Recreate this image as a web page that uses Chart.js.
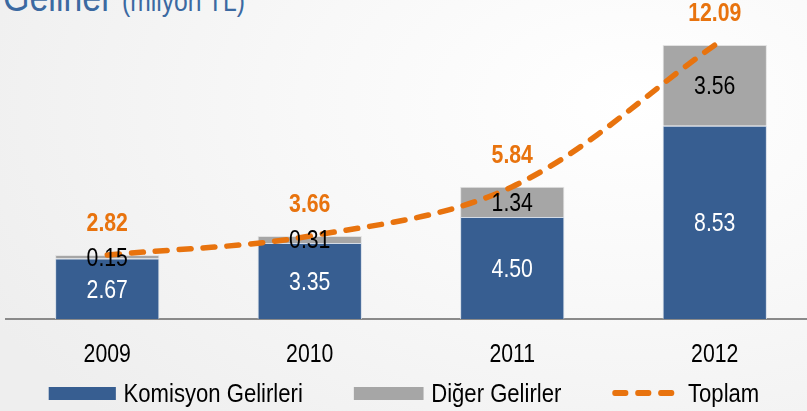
<!DOCTYPE html>
<html>
<head>
<meta charset="utf-8">
<script src="https://cdn.jsdelivr.net/npm/chart.js@4.4.1/dist/chart.umd.min.js"></script>
<style>
  html, body { margin: 0; padding: 0; }
  body {
    width: 807px; height: 411px; overflow: hidden; position: relative;
    background: radial-gradient(ellipse 90% 110% at 78% 25%, #ffffff 0%, #f8f8f8 45%, #eeeeee 100%);
    font-family: "Liberation Sans", Arial, sans-serif;
  }
  .chartBox { position: absolute; left: 0; top: 0; width: 816px; height: 411px; }
  .title {
    position: absolute; left: 3px; top: -23px; line-height: 40px;
    color: #3b69a1; font-size: 40px; white-space: nowrap;
    transform: scaleX(0.85); transform-origin: 0 50%;
  }
  .title span { font-size: 29px; }
  /* the whole legend is squeezed like a narrow font, so widths are divided by 0.85 */
  .legendZone {
    position: absolute; left: -96.5px; top: 378px; width: 1000px; height: 30px;
    display: flex; justify-content: center; align-items: center; gap: 60px;
    font-size: 26px; color: #000; white-space: nowrap;
    transform: scaleX(0.85); transform-origin: 50% 50%;
  }
  .legendZone--item { display: flex; align-items: center; flex-shrink: 0; }
  .legendZone--box { height: 13px; margin-right: 9px; }
  .legendZone--dash { width: 19px; height: 6px; border-radius: 3px; margin-right: 8px; }
</style>
</head>
<body>
<div class="title">Gelirler <span>(milyon TL)</span></div>
<div class="chartBox"><canvas id="myChart" width="816" height="411"></canvas></div>
<div class="legendZone"></div>

<script>
var ctx = document.getElementById("myChart").getContext("2d");

const years = ["2009", "2010", "2011", "2012"];
const komisyon = [2.67, 3.35, 4.5, 8.53];
const diger = [0.15, 0.31, 1.34, 3.56];
const toplam = [2.82, 3.66, 5.84, 12.09];

const blue = "#375e91";
const gray = "#a6a6a6";
const orange = "#e8730e";
const fontName = '"Liberation Sans", Arial, sans-serif';
const squeeze = 0.85;

function narrowText(c, text, x, y) {
  c.save();
  c.translate(x, y);
  c.scale(squeeze, 1);
  c.fillText(text, 0, 0);
  c.restore();
}

// all the numbers, drawn on top of bars and line
const valueLabels = {
  id: "valueLabels",
  afterDatasetsDraw(chart) {
    let c = chart.ctx;
    c.save();
    c.textAlign = "center";
    c.textBaseline = "middle";

    // values inside the bar segments
    c.font = "25px " + fontName;
    chart.data.datasets.forEach((ds, d) => {
      if (ds.type === "line") return;
      c.fillStyle = ds.labelColor;
      chart.getDatasetMeta(d).data.forEach((bar, i) => {
        let mid = (bar.y + bar.base) / 2;
        narrowText(c, ds.data[i].toFixed(2), bar.x, mid + 2);
      });
    });

    // totals above the line
    c.font = "bold 25px " + fontName;
    c.fillStyle = orange;
    chart.getDatasetMeta(2).data.forEach((pt, i) => {
      narrowText(c, toplam[i].toFixed(2), pt.x, pt.y - 31);
    });

    // year labels under the axis
    let xScale = chart.scales.x;
    c.font = "25px " + fontName;
    c.fillStyle = "#000";
    xScale.ticks.forEach((t, i) => {
      narrowText(c, years[i], xScale.getPixelForTick(i), chart.chartArea.bottom + 36);
    });
    c.restore();
  },
};

var myChart = new Chart(ctx, {
  type: "bar",
  data: {
    labels: years,
    datasets: [
      {
        label: "Komisyon Gelirleri",
        data: komisyon,
        backgroundColor: blue,
        borderColor: "#d3dbe6",
        borderWidth: 1,
        labelColor: "#ffffff",
        stack: "bars",
        order: 1,
      },
      {
        label: "Diğer Gelirler",
        data: diger,
        backgroundColor: gray,
        borderColor: "#e2e2e2",
        borderWidth: 1,
        labelColor: "#000000",
        stack: "bars",
        order: 1,
      },
      {
        type: "line",
        label: "Toplam",
        data: toplam,
        borderColor: orange,
        borderWidth: 5.5,
        borderDash: [12, 12],
        borderCapStyle: "round",
        tension: 0.35,
        pointRadius: 0,
        fill: false,
        stack: "line",
        order: 0,
        clip: false,
      },
    ],
  },
  options: {
    responsive: false,
    animation: false,
    layout: { padding: { left: 6, right: 0, top: 0, bottom: 22 } },
    datasets: {
      bar: { categoryPercentage: 1, barPercentage: 0.515 },
    },
    plugins: {
      legend: { display: false },
      tooltip: { enabled: false },
    },
    scales: {
      x: {
        stacked: true,
        grid: { display: false, drawTicks: false },
        border: { display: true, color: "#8a8a8a", width: 2 },
        ticks: {
          color: "rgba(0,0,0,0)",
          padding: 20,
          font: { family: fontName, size: 25 },
        },
      },
      y: {
        stacked: true,
        display: false,
        min: 0,
        max: 14.08,
      },
    },
  },
  plugins: [valueLabels],
});

// html legend from the datasets
const legendZone = document.querySelector(".legendZone");
myChart.data.datasets.forEach((ds) => {
  let item = document.createElement("div");
  item.setAttribute("class", "legendZone--item");
  let marker = "";
  if (ds.type === "line") {
    for (let k = 0; k < 3; k++) {
      marker += `<span class="legendZone--dash" style="background:${ds.borderColor}"></span>`;
    }
    marker = `<span style="display:flex;margin-right:8px">${marker}</span>`;
  } else {
    let w = ds.label === "Diğer Gelirler" ? 82 : 79;
    marker = `<span class="legendZone--box" style="width:${w}px;background:${ds.backgroundColor}"></span>`;
  }
  item.innerHTML = marker + `<span>${ds.label}</span>`;
  legendZone.appendChild(item);
});
</script>
</body>
</html>
